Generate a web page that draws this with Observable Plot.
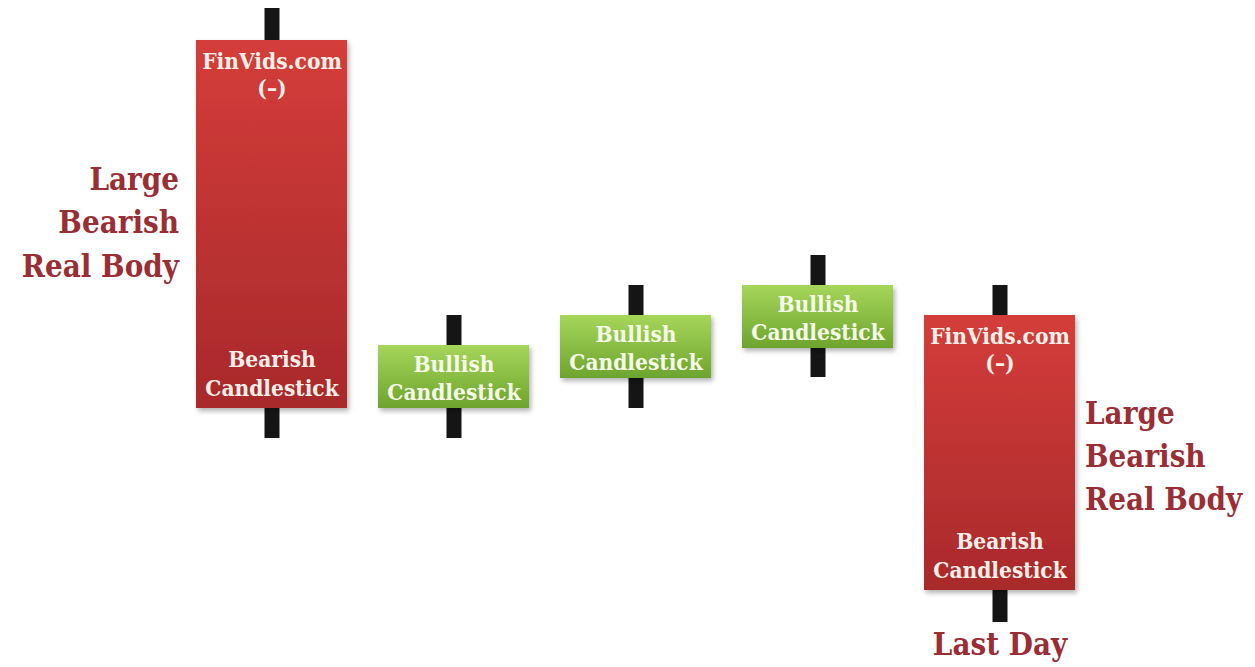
<!DOCTYPE html>
<html>
<head>
<meta charset="utf-8">
<script src="https://cdn.jsdelivr.net/npm/d3@7"></script>
<script src="https://cdn.jsdelivr.net/npm/@observablehq/plot@0.6"></script>
<style>
  html, body { margin: 0; padding: 0; background: #ffffff; }
  #chart svg { display: block; }
  #chart svg text { font-stretch: condensed; }
</style>
</head>
<body>
<div id="chart"></div>
<script>
// Candlestick data (price units)
const days  = ["Day 1", "Day 2", "Day 3", "Day 4", "Last Day"];
const open  = [62.7, 25.9, 28.9, 31.9, 35.2];
const close = [25.9, 32.2, 35.2, 38.2, 7.7];
const high  = [65.9, 35.2, 38.2, 41.2, 38.2];
const low   = [22.9, 22.9, 25.9, 29.0, 4.5];
const bodyTopLabel    = ["FinVids.com\n(–)", "", "", "", "FinVids.com\n(–)"];
const bodyBottomLabel = ["Bearish\nCandlestick", "", "", "", "Bearish\nCandlestick"];
const bullLabel       = ["", "Bullish\nCandlestick", "Bullish\nCandlestick", "Bullish\nCandlestick", ""];
const sideLabel = "Large\nBearish\nReal Body";
const lastDayLabel = "Last Day";

const candles = days.map((d, i) => ({
  day: d, open: open[i], close: close[i], high: high[i], low: low[i],
  bearish: close[i] < open[i],
  top: bodyTopLabel[i], bottom: bodyBottomLabel[i], bull: bullLabel[i]
}));
const bearish = candles.filter(d => d.bearish);
const bullish = candles.filter(d => !d.bearish);

const serif = "'DejaVu Serif Condensed', 'DejaVu Serif', serif";

const chart = Plot.plot({
  width: 1255,
  height: 667,
  marginTop: 0, marginBottom: 0, marginLeft: 164, marginRight: 147,
  x: {type: "band", domain: days, padding: 0.168, axis: null},
  y: {domain: [0, 66.7], axis: null},
  style: {background: "#ffffff", fontFamily: serif},
  marks: [
    Plot.ruleX(candles, {x: "day", y1: "low", y2: "high", stroke: "#151515", strokeWidth: 15}),
    Plot.barY(bearish, {x: "day", y1: "open", y2: "close", fill: "url(#redGrad)"}),
    Plot.barY(bullish, {x: "day", y1: "open", y2: "close", fill: "url(#greenGrad)"}),
    // text inside bearish bodies
    Plot.text(bearish, {x: "day", y: "open", text: "top", lineAnchor: "top", dy: 9,
      fill: "#fbefe9", fontSize: 22.5, fontWeight: "bold", lineHeight: 1.2}),
    Plot.text(bearish, {x: "day", y: "close", text: "bottom", lineAnchor: "bottom", dy: -13,
      fill: "#fbefe9", fontSize: 22.5, fontWeight: "bold", lineHeight: 1.27}),
    // text inside bullish bodies
    Plot.text(bullish, {x: "day", y: d => (d.open + d.close) / 2, text: "bull", lineAnchor: "middle",
      fill: "#f6fbe9", fontSize: 22.5, fontWeight: "bold", lineHeight: 1.24}),
    // side labels
    Plot.text([candles[0]], {x: "day", y: d => (d.open + d.close) / 2, text: () => sideLabel,
      textAnchor: "end", dx: -93, dy: -5, lineAnchor: "middle", fill: "#9b2d35", fontSize: 31, fontWeight: "bold", lineHeight: 1.4}),
    Plot.text([candles[4]], {x: "day", y: d => (d.open + d.close) / 2, text: () => sideLabel,
      textAnchor: "start", dx: 85, lineAnchor: "middle", fill: "#9b2d35", fontSize: 31, fontWeight: "bold", lineHeight: 1.4}),
    Plot.text([candles[4]], {x: "day", y: "low", text: () => lastDayLabel, lineAnchor: "top", dy: 10,
      fill: "#9b2d35", fontSize: 31, fontWeight: "bold"})
  ]
});

const svg = d3.select(chart);
const defs = svg.insert("defs", ":first-child");
const red = defs.append("linearGradient").attr("id", "redGrad").attr("x1", 0).attr("y1", 0).attr("x2", 0).attr("y2", 1);
red.append("stop").attr("offset", "0%").attr("stop-color", "#d43d3a");
red.append("stop").attr("offset", "100%").attr("stop-color", "#a8292b");
const green = defs.append("linearGradient").attr("id", "greenGrad").attr("x1", 0).attr("y1", 0).attr("x2", 0).attr("y2", 1);
green.append("stop").attr("offset", "0%").attr("stop-color", "#a6d65a");
green.append("stop").attr("offset", "100%").attr("stop-color", "#6da42e");
const sh = defs.append("filter").attr("id", "shadow").attr("x", "-10%").attr("y", "-10%").attr("width", "130%").attr("height", "130%");
sh.append("feDropShadow").attr("dx", 2).attr("dy", 3).attr("stdDeviation", 2.5).attr("flood-color", "#000").attr("flood-opacity", 0.3);
svg.selectAll("g[aria-label='bar']").attr("filter", "url(#shadow)");

document.getElementById("chart").appendChild(chart);
</script>
</body>
</html>
